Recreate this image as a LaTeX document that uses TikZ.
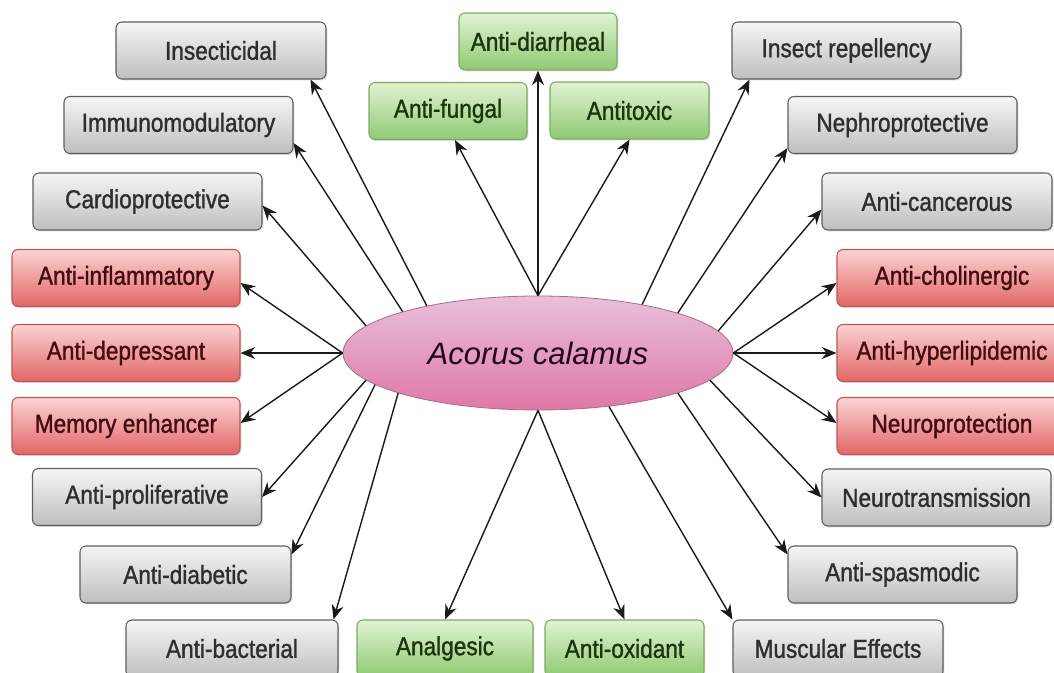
\documentclass[tikz,border=0pt]{standalone}
\usepackage{fontspec}
\setmainfont{Liberation Sans}[FakeStretch=0.87,FakeBold=1.2]
\newfontfamily\ellfont{Liberation Sans}
\usetikzlibrary{arrows.meta,calc,shadows,shapes.geometric}
\definecolor{gtop}{HTML}{F6F6F6}
\definecolor{gbot}{HTML}{BEBEBE}
\definecolor{gline}{HTML}{5E5E5E}
\definecolor{gtext}{HTML}{2E2E2E}
\definecolor{vtop}{HTML}{E0F3D2}
\definecolor{vbot}{HTML}{90C973}
\definecolor{vline}{HTML}{7EA866}
\definecolor{vtext}{HTML}{1A360C}
\definecolor{rtop}{HTML}{FBD3D3}
\definecolor{rbot}{HTML}{E26666}
\definecolor{rline}{HTML}{BE5555}
\definecolor{rtext}{HTML}{440C10}
\definecolor{etop}{HTML}{E8C0DA}
\definecolor{ebot}{HTML}{DF78A6}
\definecolor{eline}{HTML}{A86A8C}
\definecolor{etext}{HTML}{24061A}
\definecolor{arrc}{HTML}{1A1A1A}
\begin{document}
\begin{tikzpicture}[x=0.75pt,y=-0.75pt,
  box/.style={rounded corners=4.5pt, minimum height=42.75pt, inner sep=0pt,
    line width=0.8pt, font=\fontsize{19.5}{22}\selectfont,
    drop shadow={shadow xshift=1.1pt, shadow yshift=-1.1pt, opacity=0.25}},
  graybox/.style={box, draw=gline, top color=gtop, bottom color=gbot, text=gtext},
  greenbox/.style={box, draw=vline, top color=vtop, bottom color=vbot, text=vtext},
  redbox/.style={box, draw=rline, top color=rtop, bottom color=rbot, text=rtext},
  arr/.style={-{Stealth[length=11pt,width=9pt]}, line width=1.05pt, draw=arrc},
]
\useasboundingbox[fill=white] (0,0) rectangle (1054,672);
\clip (0,0) rectangle (1054,672);

% centre
\node[ellipse, draw=eline, line width=0.6pt, top color=etop, bottom color=ebot,
  minimum width=292.5pt, minimum height=85.5pt, inner sep=0pt,
  font=\ellfont\itshape\fontsize{23.25}{26}\selectfont, text=etext] (c) at (538,353) {Acorus calamus};

% grey boxes
\node[graybox, minimum width=157.5pt]  (ins) at (221,50.5)   {Insecticidal};
\node[graybox, minimum width=171.75pt] (imm) at (178.5,125)  {Immunomodulatory};
\node[graybox, minimum width=171.75pt] (car) at (147.5,201.5){Cardioprotective};
\node[graybox, minimum width=171.75pt] (pro) at (147,497)    {Anti-proliferative};
\node[graybox, minimum width=158.25pt] (dia) at (185.5,574.5){Anti-diabetic};
\node[graybox, minimum width=159pt]    (bac) at (232,648.5)  {Anti-bacterial};
\node[graybox, minimum width=171.75pt] (rep) at (846.5,50.5) {Insect repellency};
\node[graybox, minimum width=171.75pt] (nep) at (902.5,125)  {Nephroprotective};
\node[graybox, minimum width=172.5pt]  (can) at (937,201.5)  {Anti-cancerous};
\node[graybox, minimum width=171.75pt] (neu) at (936.5,497.5){Neurotransmission};
\node[graybox, minimum width=171.75pt] (spa) at (902.5,574.5){Anti-spasmodic};
\node[graybox, minimum width=157.5pt]  (mus) at (838,648.5)  {Muscular Effects};

% red boxes
\node[redbox, minimum width=171pt]   (inf) at (126,278)  {Anti-inflammatory};
\node[redbox, minimum width=171pt]   (dep) at (126,353)  {Anti-depressant};
\node[redbox, minimum width=171pt]   (mem) at (126,426)  {Memory enhancer};
\node[redbox, minimum width=172.5pt] (cho) at (952,278)  {Anti-cholinergic};
\node[redbox, minimum width=172.5pt] (hyp) at (952,353)  {Anti-hyperlipidemic};
\node[redbox, minimum width=172.5pt] (npr) at (952,426)  {Neuroprotection};

% green boxes
\node[greenbox, minimum width=118.5pt] (dir) at (538,41.5)   {Anti-diarrheal};
\node[greenbox, minimum width=118.5pt] (fun) at (448,111)    {Anti-fungal};
\node[greenbox, minimum width=119.25pt](tox) at (629.5,110.5){Antitoxic};
\node[greenbox, minimum width=132pt]   (ana) at (445,648.5)  {Analgesic};
\node[greenbox, minimum width=119.25pt](oxi) at (624.5,648.5){Anti-oxidant};

% connectors
\draw[arr] (c.157.5) -- ($(ins.south east)+(-16,0)$);
\draw[arr] (c.163.8) -- ($(imm.east)+(0,18)$);
\draw[arr] (c.171)   -- ($(car.east)+(0,4)$);
\draw[arr] (c.180)   -- ($(inf.east)+(0,5)$);
\draw[arr] (c.180)   -- (dep.east);
\draw[arr] (c.180)   -- ($(mem.east)+(0,-3)$);
\draw[arr] (c.189.6) -- (pro.east);
\draw[arr] (c.191.9) -- ($(dia.north east)+(0,9)$);
\draw[arr] (c.196.9) -- ($(bac.north east)+(-5,0)$);
\draw[arr] (c.90)    -- ($(fun.south)+(7,0)$);
\draw[arr] (c.90)    -- (dir.south);
\draw[arr] (c.90)    -- (tox.south);
\draw[arr] (c.25.9)  -- ($(rep.south west)+(18,0)$);
\draw[arr] (c.16.4)  -- ($(nep.west)+(0,23)$);
\draw[arr] (c.7.9)   -- ($(can.west)+(0,8)$);
\draw[arr] (c.0)     -- ($(cho.west)+(0,5)$);
\draw[arr] (c.0)     -- (hyp.west);
\draw[arr] (c.0)     -- ($(npr.west)+(0,-3)$);
\draw[arr] (c.-9.5)  -- (neu.west);
\draw[arr] (c.-16.8) -- ($(spa.north west)+(0,9)$);
\draw[arr] (c.-37.5) -- (mus.north west);
\draw[arr] (c.270)   -- (ana.north);
\draw[arr] (c.270)   -- (oxi.north);
\end{tikzpicture}
\end{document}
